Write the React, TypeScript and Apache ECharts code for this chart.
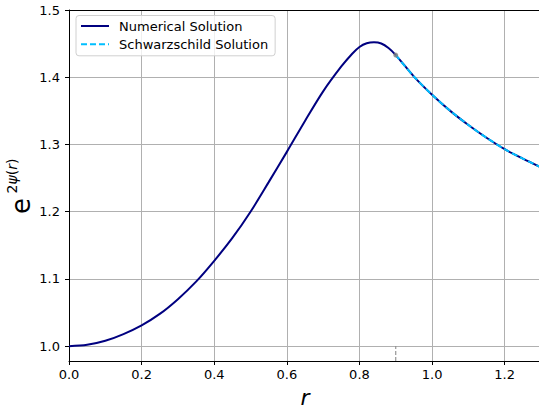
import React, { useEffect, useRef } from "react";
import * as echarts from "echarts";

const rNum = [0, 0.05, 0.1, 0.15, 0.2, 0.25, 0.3, 0.35, 0.4, 0.45, 0.5, 0.55, 0.6, 0.65, 0.7, 0.75, 0.78, 0.8, 0.82, 0.84, 0.86, 0.88, 0.9, 0.95, 1.0, 1.05, 1.1, 1.15, 1.2, 1.25, 1.3];
const eNum = [1.0, 1.002, 1.008, 1.018, 1.031, 1.048, 1.07, 1.096, 1.127, 1.161, 1.2, 1.244, 1.289, 1.335, 1.379, 1.416, 1.435, 1.445, 1.4505, 1.452, 1.4502, 1.4435, 1.433, 1.401, 1.374, 1.35, 1.329, 1.31, 1.293, 1.279, 1.266];

const rSch = [0.9, 0.95, 1.0, 1.05, 1.1, 1.15, 1.2, 1.25, 1.3];
const eSch = [1.433, 1.401, 1.374, 1.35, 1.329, 1.31, 1.293, 1.279, 1.266];

const rBoundary = 0.9;
const eBoundary = 1.433;

const yTicks = [1.0, 1.1, 1.2, 1.3, 1.4, 1.5];
const xMin = 0;
const xMax = 1.3;
const yMin = 0.978;
const yMax = 1.5;

const FONT = "DejaVu Sans";

export default function App() {
  const ref = useRef<HTMLDivElement>(null);
  useEffect(() => {
    document.body.style.margin = "0";
    const chart = echarts.init(ref.current!, null, { renderer: "svg" });
    const numData = rNum.map((r, i) => [r, eNum[i]]);
    const schData = rSch.map((r, i) => [r, eSch[i]]);
    chart.setOption({
      animation: false,
      backgroundColor: "#ffffff",
      grid: { left: 69, right: -2, top: 10, bottom: 47, outerBoundsMode: "none", containLabel: false },
      legend: {
        data: ["Numerical Solution", "Schwarzschild Solution"],
        orient: "vertical",
        left: 76,
        top: 15.5,
        itemWidth: 28,
        itemHeight: 14,
        itemGap: 5.3,
        padding: [4, 7, 5, 4],
        borderColor: "#d0d0d0",
        borderWidth: 1,
        borderRadius: 3,
        backgroundColor: "rgba(255,255,255,0.8)",
        itemStyle: { opacity: 0, color: "transparent", borderWidth: 0 },
        textStyle: { fontSize: 13, fontFamily: FONT, color: "#000", padding: [0, 0, 0, 5] },
      },
      xAxis: [
        {
          type: "value",
          min: xMin,
          max: xMax,
          interval: 0.2,
          axisLine: { show: true, onZero: false, lineStyle: { color: "#000", width: 1 } },
          axisTick: { show: true, length: 4, lineStyle: { color: "#000" } },
          axisLabel: {
            fontSize: 13,
            fontFamily: FONT,
            color: "#000",
            margin: 7,
            showMaxLabel: false,
            formatter: (v: number) => v.toFixed(1),
          },
          splitLine: { show: true, lineStyle: { color: "#b0b0b0", width: 1 } },
          name: "r",
          nameLocation: "middle",
          nameGap: 25,
          nameTextStyle: { fontSize: 22, fontStyle: "italic", fontFamily: FONT, color: "#000" },
        },
        {
          type: "value",
          position: "top",
          min: xMin,
          max: xMax,
          axisLine: { show: true, lineStyle: { color: "#000", width: 1 } },
          axisTick: { show: false },
          axisLabel: { show: false },
          splitLine: { show: false },
        },
      ],
      yAxis: {
        type: "value",
        min: yMin,
        max: yMax,
        axisLine: { show: true, onZero: false, lineStyle: { color: "#000", width: 1 } },
        axisTick: { show: true, length: 4, lineStyle: { color: "#000" }, customValues: yTicks },
        axisLabel: {
          fontSize: 13,
          fontFamily: FONT,
          color: "#000",
          margin: 9,
          customValues: yTicks,
          formatter: (v: number) => v.toFixed(1),
        },
        splitLine: { show: true, lineStyle: { color: "#b0b0b0", width: 1 } },
      },
      graphic: [
        {
          type: "text",
          x: 21,
          y: 206,
          rotation: Math.PI / 2,
          style: {
            text: "e",
            fontSize: 26,
            fontFamily: FONT,
            fill: "#000",
            align: "center",
            verticalAlign: "middle",
          },
        },
        {
          type: "text",
          x: 12,
          y: 176,
          rotation: Math.PI / 2,
          style: {
            text: "{n|2}{i|ψ}{n|(}{i|r}{n|)}",
            fontFamily: FONT,
            fill: "#000",
            align: "center",
            verticalAlign: "middle",
            rich: {
              n: { fontSize: 14, fontFamily: FONT, fill: "#000" },
              i: { fontSize: 14, fontFamily: FONT, fontStyle: "italic", fill: "#000" },
            },
          },
        },
      ],
      series: [
        {
          name: "Numerical Solution",
          type: "line",
          data: numData,
          showSymbol: false,
          symbol: "none",
          smooth: 0.3,
          color: "#000080",
          lineStyle: { color: "#000080", width: 2 },
          z: 2,
        },
        {
          name: "Schwarzschild Solution",
          type: "line",
          data: schData,
          showSymbol: false,
          symbol: "none",
          smooth: 0.3,
          color: "#00bfff",
          lineStyle: { color: "#00bfff", width: 2, type: [6, 3] },
          z: 3,
        },
        {
          name: "boundary",
          type: "line",
          data: [
            [rBoundary, yMin],
            [rBoundary, 1.0],
          ],
          showSymbol: false,
          symbol: "none",
          lineStyle: { color: "#808080", width: 1, type: [4, 2] },
          z: 1,
        },
        {
          name: "boundaryPoint",
          type: "scatter",
          data: [[rBoundary, eBoundary]],
          symbol: "circle",
          symbolSize: 5,
          itemStyle: { color: "#808080" },
          z: 4,
        },
      ],
    });
    return () => chart.dispose();
  }, []);
  return <div ref={ref} style={{ width: 539, height: 408 }} />;
}
